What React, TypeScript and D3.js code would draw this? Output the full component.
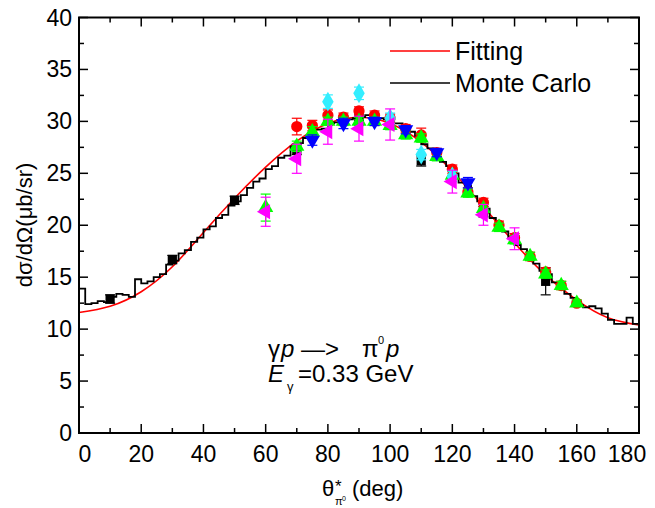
import React, { useEffect, useRef } from 'react'
import * as d3 from 'd3'

// fitting curve, read every 10 deg
const fitAngles = [0, 10, 20, 30, 40, 50, 60, 70, 80, 90, 100, 110, 120, 130, 140, 150, 160, 170, 180]
const fitValues = [11.6, 12.2, 13.6, 16.0, 19.3, 22.6, 25.6, 28.1, 29.8, 30.4, 29.8, 28.0, 25.2, 21.8, 18.3, 15.2, 12.8, 11.1, 10.4]

// monte carlo histogram, 2 deg bins starting at 0
const mcBinWidth = 2
const mcValues = [
  13.9, 12.4, 12.5, 12.7, 12.6, 13.1, 13.4, 13.3, 13.1, 14.8,
  14.4, 14.6, 15.0, 15.3, 16.2, 16.6, 17.3, 17.6, 18.4, 18.8,
  19.6, 19.9, 20.7, 21.0, 21.9, 22.3, 22.9, 23.6, 24.2, 24.5,
  25.4, 25.7, 26.5, 26.7, 27.6, 27.9, 28.4, 28.6, 29.2, 29.3,
  29.8, 29.9, 30.0, 30.2, 30.3, 30.4, 30.6, 30.6, 30.3, 30.2,
  29.8, 29.8, 29.3, 29.0, 28.6, 27.8, 27.4, 26.9, 26.1, 25.7,
  25.0, 24.1, 23.8, 22.8, 22.3, 21.6, 20.7, 20.2, 19.4, 18.8,
  18.1, 17.7, 16.8, 16.3, 15.6, 15.3, 14.5, 14.1, 13.4, 13.0,
  12.3, 12.1, 12.2, 12.0, 11.5, 10.9, 10.5, 10.5, 11.1, 10.5,
]

// measured points
const blackX = [10, 30, 50, 70, 90, 110, 130, 150]
const blackY = [12.9, 16.7, 22.4, 27.3, 30.6, 26.2, 21.3, 14.6]
const blackErr = [0.4, 0.4, 0.4, 0.5, 0.5, 0.5, 0.5, 1.3]

const redX = [70, 75, 80, 85, 90, 95, 100, 105, 110, 115, 120, 125, 130, 135, 140, 145, 150, 155, 160]
const redY = [29.5, 29.6, 30.6, 30.4, 31.0, 30.6, 30.3, 29.3, 28.7, 27.0, 25.4, 23.2, 22.2, 20.0, 18.8, 17.0, 15.5, 14.2, 12.5]
const redErr = [0.8, 0.5, 0.5, 0.4, 0.4, 0.4, 0.4, 0.4, 0.65, 0.4, 0.4, 0.4, 0.4, 0.4, 0.4, 0.4, 0.4, 0.4, 0.3]

const blueX = [75, 85, 95, 105, 115, 125]
const blueY = [28.2, 29.8, 30.0, 29.2, 27.0, 24.1]
const blueErr = [0.5, 0.5, 0.4, 0.4, 0.4, 0.5]

const greenX = [60, 70, 75, 80, 85, 90, 95, 100, 105, 110, 115, 120, 125, 130, 135, 140, 145, 150, 155, 160]
const greenY = [21.7, 27.6, 29.0, 30.0, 30.0, 30.0, 30.0, 29.6, 28.7, 28.4, 26.6, 24.8, 23.1, 21.6, 19.8, 18.6, 17.0, 15.3, 14.2, 12.5]
const greenErr = [1.3, 0.5, 0.5, 0.4, 0.4, 0.4, 0.4, 0.4, 0.4, 0.4, 0.4, 0.4, 0.4, 0.4, 0.4, 0.4, 0.4, 0.4, 0.4, 0.3]

const cyanX = [80, 90, 100, 110, 120]
const cyanY = [31.9, 32.7, 30.3, 26.8, 24.7]
const cyanErr = [0.65, 0.6, 0.5, 0.5, 0.5]

const magentaX = [60, 70, 80, 90, 100, 120, 130, 140]
const magentaY = [21.3, 26.4, 29.0, 29.3, 29.7, 24.2, 21.0, 18.7]
const magentaErr = [1.4, 1.4, 1.2, 1.2, 1.5, 1.1, 1.0, 1.05]

const xTicks = [0, 20, 40, 60, 80, 100, 120, 140, 160, 180]
const yTicks = [0, 5, 10, 15, 20, 25, 30, 35, 40]

const FONT = '"Liberation Sans", Arial, Helvetica, sans-serif'

const App = () => {
  const svgRef = useRef(null)

  useEffect(() => {
    const svg = d3.select(svgRef.current)
    svg.selectAll('*').remove()

    const x = d3.scaleLinear().domain([0, 180]).range([79, 639])
    const y = d3.scaleLinear().domain([0, 40]).range([433, 17.5])
    const [x0, x1] = x.range()
    const [y0, y1] = y.range()

    // fitting curve
    const fitLine = d3
      .line()
      .x((d) => x(d[0]))
      .y((d) => y(d[1]))
      .curve(d3.curveNatural)
    svg
      .append('path')
      .attr('d', fitLine(fitAngles.map((a, i) => [a, fitValues[i]])))
      .style('fill', 'none')
      .style('stroke', '#ff0000')
      .style('stroke-width', 1.6)

    // monte carlo histogram
    const mcPts = mcValues.map((v, i) => [i * mcBinWidth, v])
    mcPts.push([mcValues.length * mcBinWidth, mcValues[mcValues.length - 1]])
    const mcLine = d3
      .line()
      .x((d) => x(d[0]))
      .y((d) => y(d[1]))
      .curve(d3.curveStepAfter)
    svg
      .append('path')
      .attr('d', mcLine(mcPts))
      .style('fill', 'none')
      .style('stroke', '#000')
      .style('stroke-width', 1.8)

    // markers
    const sym = {
      square: d3.symbol().type(d3.symbolSquare).size(85),
      circle: d3.symbol().type(d3.symbolCircle).size(100),
      triUp: d3.symbol().type(d3.symbolTriangle).size(100),
      diamond: d3.symbol().type(d3.symbolDiamond).size(115),
    }

    const series = [
      { xs: blackX, ys: blackY, es: blackErr, color: '#000000', shape: sym.square, rot: 0 },
      { xs: redX, ys: redY, es: redErr, color: '#ff0000', shape: sym.circle, rot: 0 },
      { xs: greenX, ys: greenY, es: greenErr, color: '#00ff00', shape: sym.triUp, rot: 0 },
      { xs: blueX, ys: blueY, es: blueErr, color: '#0000ff', shape: sym.triUp, rot: 180 },
      { xs: cyanX, ys: cyanY, es: cyanErr, color: '#33eeff', shape: sym.diamond, rot: 0 },
      { xs: magentaX, ys: magentaY, es: magentaErr, color: '#ff00ff', shape: sym.triUp, rot: -90 },
    ]

    series.forEach((s) => {
      const g = svg.append('g')
      s.xs.forEach((a, i) => {
        const cx = x(a)
        const cy = y(s.ys[i])
        const top = y(s.ys[i] + s.es[i])
        const bot = y(s.ys[i] - s.es[i])
        g.append('line').attr('x1', cx).attr('x2', cx).attr('y1', top).attr('y2', bot)
          .style('stroke', s.color).style('stroke-width', 1.2)
        g.append('line').attr('x1', cx - 5).attr('x2', cx + 5).attr('y1', top).attr('y2', top)
          .style('stroke', s.color).style('stroke-width', 1.2)
        g.append('line').attr('x1', cx - 5).attr('x2', cx + 5).attr('y1', bot).attr('y2', bot)
          .style('stroke', s.color).style('stroke-width', 1.2)
        g.append('path')
          .attr('d', s.shape())
          .attr('transform', `translate(${cx},${cy}) rotate(${s.rot})`)
          .style('fill', s.color)
      })
    })

    // frame and ticks
    const axisG = svg.append('g').style('font-family', FONT)
    axisG.append('rect')
      .attr('x', x0).attr('y', y1).attr('width', x1 - x0).attr('height', y0 - y1)
      .style('fill', 'none').style('stroke', '#000').style('stroke-width', 2)

    const xMinor = d3.range(10, 180, 20)
    const yMinor = d3.range(2.5, 40, 5)
    xTicks.forEach((t) => {
      axisG.append('line').attr('x1', x(t)).attr('x2', x(t)).attr('y1', y0).attr('y2', y0 - 9)
        .style('stroke', '#000').style('stroke-width', 1.5)
      axisG.append('line').attr('x1', x(t)).attr('x2', x(t)).attr('y1', y1).attr('y2', y1 + 9)
        .style('stroke', '#000').style('stroke-width', 1.5)
      // end labels are pulled inside the frame
      const shift = t === 0 ? 6 : t === 180 ? -12 : 0
      axisG.append('text').attr('x', x(t) + shift).attr('y', y0 + 29)
        .style('text-anchor', 'middle').style('font-size', '23px').text(t)
    })
    xMinor.forEach((t) => {
      axisG.append('line').attr('x1', x(t)).attr('x2', x(t)).attr('y1', y0).attr('y2', y0 - 5)
        .style('stroke', '#000').style('stroke-width', 1.5)
      axisG.append('line').attr('x1', x(t)).attr('x2', x(t)).attr('y1', y1).attr('y2', y1 + 5)
        .style('stroke', '#000').style('stroke-width', 1.5)
    })
    yTicks.forEach((t) => {
      axisG.append('line').attr('x1', x0).attr('x2', x0 + 9).attr('y1', y(t)).attr('y2', y(t))
        .style('stroke', '#000').style('stroke-width', 1.5)
      axisG.append('line').attr('x1', x1).attr('x2', x1 - 9).attr('y1', y(t)).attr('y2', y(t))
        .style('stroke', '#000').style('stroke-width', 1.5)
      axisG.append('text').attr('x', x0 - 7).attr('y', y(t) + 8)
        .style('text-anchor', 'end').style('font-size', '23px').text(t)
    })
    yMinor.forEach((t) => {
      axisG.append('line').attr('x1', x0).attr('x2', x0 + 5).attr('y1', y(t)).attr('y2', y(t))
        .style('stroke', '#000').style('stroke-width', 1.5)
      axisG.append('line').attr('x1', x1).attr('x2', x1 - 5).attr('y1', y(t)).attr('y2', y(t))
        .style('stroke', '#000').style('stroke-width', 1.5)
    })

    // axis titles
    const xt = axisG.append('g').style('font-size', '22px')
    xt.append('text').attr('x', 322).attr('y', 496).text('θ')
    xt.append('text').attr('x', 335).attr('y', 492).style('font-size', '17px').text('*')
    xt.append('text').attr('x', 335).attr('y', 505).style('font-size', '11px').text('π')
    xt.append('text').attr('x', 342).attr('y', 501).style('font-size', '7px').text('0')
    xt.append('text').attr('x', 352).attr('y', 496).text('(deg)')

    axisG.append('text')
      .attr('transform', `translate(32, 225) rotate(-90)`)
      .style('text-anchor', 'middle').style('font-size', '22px')
      .text('dσ/dΩ(μb/sr)')

    // legend
    const legend = [
      { label: 'Fitting', color: '#ff0000', yy: 51 },
      { label: 'Monte Carlo', color: '#000000', yy: 83 },
    ]
    legend.forEach((l) => {
      axisG.append('line').attr('x1', 390).attr('x2', 450).attr('y1', l.yy).attr('y2', l.yy)
        .style('stroke', l.color).style('stroke-width', 1.6)
      axisG.append('text').attr('x', 455).attr('y', l.yy + 9).style('font-size', '25px').text(l.label)
    })

    // reaction annotation
    const ann = axisG.append('g').style('font-size', '24px')
    ann.append('text').attr('x', 268).attr('y', 357).text('γ')
    ann.append('text').attr('x', 281).attr('y', 357).style('font-style', 'italic').text('p')
    ann.append('text').attr('x', 301).attr('y', 357).text('—>')
    ann.append('text').attr('x', 362).attr('y', 357).text('π')
    ann.append('text').attr('x', 378).attr('y', 344).style('font-size', '11px').text('0')
    ann.append('text').attr('x', 386).attr('y', 357).style('font-style', 'italic').text('p')

    ann.append('text').attr('x', 268).attr('y', 382).style('font-style', 'italic').text('E')
    ann.append('text').attr('x', 287).attr('y', 391).style('font-size', '13px').text('γ')
    ann.append('text').attr('x', 298).attr('y', 382).text('=0.33 GeV')
  }, [])

  return (
    <svg
      ref={svgRef}
      width={655}
      height={508}
      style={{ position: 'absolute', left: 0, top: 0, background: '#fff' }}
    ></svg>
  )
}

export default App
